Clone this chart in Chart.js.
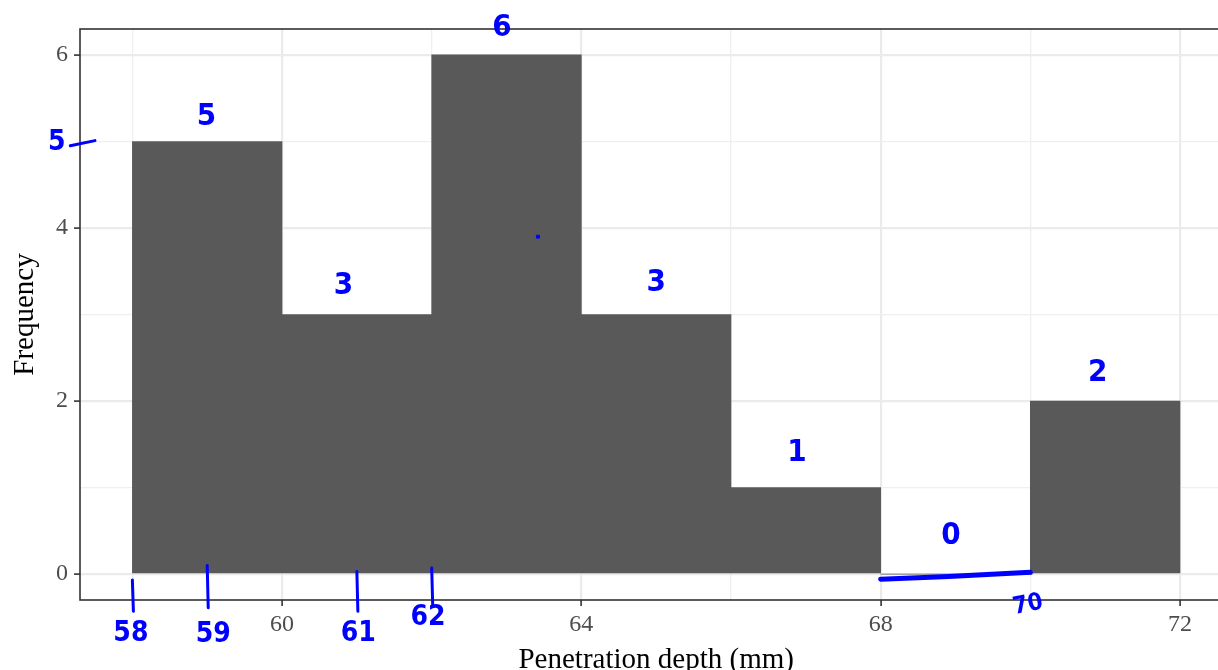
<!DOCTYPE html>
<html>
<head>
<meta charset="utf-8">
<script src="https://cdn.jsdelivr.net/npm/chart.js@4"></script>
<style>
  html, body { margin: 0; padding: 0; background: #fff; overflow: hidden; }
  #wrap { width: 1218px; height: 670px; position: relative; }
</style>
</head>
<body>
<div id="wrap"><canvas id="chart"></canvas></div>
<script>
// histogram bins
const binEdges = [58, 60, 62, 64, 66, 68, 70, 72];
const counts = [5, 3, 6, 3, 1, 0, 2];

// axes
const xMajorTicks = [60, 64, 68, 72];
const xMinorTicks = [58, 62, 66, 70];
const yMajorTicks = [0, 2, 4, 6];
const yMinorTicks = [1, 3, 5];
const xTitle = "Penetration depth (mm)";
const yTitle = "Frequency";

// handwritten notes (blue ink), in data units
const noteCountX = [58.99, 60.82, 62.94, 65.0, 66.88, 68.94, 70.9];
const noteCountY = [5.28, 3.33, 6.31, 3.37, 1.40, 0.44, 2.33];
const handTickValues = [58, 59, 61, 62];
const handTickTop = [-0.07, 0.1, 0.03, 0.07];
const handTickBottom = [-0.43, -0.39, -0.43, -0.36];
const handTickLabelX = [57.98, 59.08, 61.02, 61.95];
const handTickLabelY = [-0.69, -0.70, -0.69, -0.51];
const emptyBinLine = [[68, -0.06], [70, 0.02]];
const emptyBinLabel = { text: "70", x: 69.97, y: -0.36 };
const yNote = { text: "5", x: 56.99, y: 4.98, dash: [[57.17, 4.95], [57.5, 5.01]] };
const inkDot = [63.42, 3.9];

const BAR_COLOR = "#595959";
const GRID_MAJOR = "#EBEBEB";
const GRID_MINOR = "#EFEFEF";
const AXIS_COLOR = "#333333";
const TICK_TEXT = "#4D4D4D";
const INK = "#0000ff";
const SERIF = '"Liberation Serif", "Times New Roman", serif';
const HAND = '"Liberation Sans Narrow", "DejaVu Sans Condensed", sans-serif';

const bars = counts.map((c, i) => ({ x: (binEdges[i] + binEdges[i + 1]) / 2, y: c }));
const xTicks = [...xMinorTicks, ...xMajorTicks].sort((a, b) => a - b);
const yTicks = [...yMinorTicks, ...yMajorTicks].sort((a, b) => a - b);

const panelAndNotes = {
  id: "panelAndNotes",
  afterDraw(chart) {
    const { ctx, chartArea: a, scales: { x, y } } = chart;
    const px = (v) => x.getPixelForValue(v);
    const py = (v) => y.getPixelForValue(v);

    // panel border (theme_bw)
    ctx.save();
    ctx.strokeStyle = AXIS_COLOR;
    ctx.lineWidth = 1.6;
    ctx.strokeRect(a.left, a.top, a.right - a.left + 20, a.bottom - a.top);

    // axis titles
    ctx.fillStyle = "#000";
    ctx.font = "29px " + SERIF;
    ctx.textAlign = "center";
    ctx.textBaseline = "alphabetic";
    ctx.fillText(xTitle, px((x.min + 72.7) / 2), 668);
    ctx.translate(33, py((y.min + y.max) / 2));
    ctx.rotate(-Math.PI / 2);
    ctx.fillText(yTitle, 0, 0);
    ctx.restore();

    // blue ink notes
    ctx.save();
    ctx.fillStyle = INK;
    ctx.strokeStyle = INK;
    ctx.lineCap = "round";
    ctx.textAlign = "center";
    ctx.textBaseline = "middle";
    ctx.font = "bold 31px " + HAND;
    counts.forEach((c, i) => ctx.fillText(String(c), px(noteCountX[i]), py(noteCountY[i])));

    ctx.lineWidth = 3;
    handTickValues.forEach((v, i) => {
      ctx.beginPath();
      ctx.moveTo(px(v), py(handTickTop[i]));
      ctx.lineTo(px(v) + 1, py(handTickBottom[i]));
      ctx.stroke();
    });
    ctx.font = "bold 28px " + HAND;
    handTickValues.forEach((v, i) => ctx.fillText(String(v), px(handTickLabelX[i]), py(handTickLabelY[i])));

    ctx.lineWidth = 5;
    ctx.beginPath();
    ctx.moveTo(px(emptyBinLine[0][0]), py(emptyBinLine[0][1]));
    ctx.quadraticCurveTo(px(69), py(-0.03), px(emptyBinLine[1][0]), py(emptyBinLine[1][1]));
    ctx.stroke();

    ctx.save();
    ctx.translate(px(emptyBinLabel.x), py(emptyBinLabel.y));
    ctx.rotate(-0.2);
    ctx.font = "bold 24px " + HAND;
    ctx.fillText(emptyBinLabel.text, 0, 0);
    ctx.restore();

    ctx.font = "bold 28px " + HAND;
    ctx.fillText(yNote.text, px(yNote.x), py(yNote.y));
    ctx.lineWidth = 3;
    ctx.beginPath();
    ctx.moveTo(px(yNote.dash[0][0]), py(yNote.dash[0][1]));
    ctx.lineTo(px(yNote.dash[1][0]), py(yNote.dash[1][1]));
    ctx.stroke();

    ctx.beginPath();
    ctx.arc(px(inkDot[0]), py(inkDot[1]), 2.2, 0, Math.PI * 2);
    ctx.fill();
    ctx.restore();
  },
};

new Chart(document.getElementById("chart").getContext("2d"), {
  type: "bar",
  data: {
    datasets: [{
      data: bars,
      backgroundColor: BAR_COLOR,
      borderWidth: 0,
      barPercentage: 1,
      categoryPercentage: 1,
    }],
  },
  options: {
    responsive: true,
    maintainAspectRatio: false,
    animation: false,
    layout: { padding: { top: 29, right: 0, bottom: 0, left: 0 } },
    plugins: { legend: { display: false }, tooltip: { enabled: false } },
    scales: {
      x: {
        type: "linear",
        offset: false,
        min: 57.3,
        max: 72.508,
        afterBuildTicks: (s) => { s.ticks = xTicks.map((v) => ({ value: v })); },
        afterFit: (s) => { s.height = 70; },
        ticks: {
          color: TICK_TEXT,
          font: { family: SERIF, size: 24 },
          padding: 4,
          maxRotation: 0,
          autoSkip: false,
          callback: (v) => (xMajorTicks.includes(v) ? String(v) : ""),
        },
        grid: {
          offset: false,
          color: (c) => (xMajorTicks.includes(c.tick?.value) ? GRID_MAJOR : GRID_MINOR),
          lineWidth: (c) => (xMajorTicks.includes(c.tick?.value) ? 2.2 : 1.3),
          tickColor: (c) => (xMajorTicks.includes(c.tick?.value) ? AXIS_COLOR : "rgba(0,0,0,0)"),
          tickWidth: 1.6,
          tickLength: 6,
        },
        border: { display: false },
      },
      y: {
        min: -0.3,
        max: 6.3,
        afterBuildTicks: (s) => { s.ticks = yTicks.map((v) => ({ value: v })); },
        afterFit: (s) => { s.width = 80; },
        ticks: {
          color: TICK_TEXT,
          font: { family: SERIF, size: 24 },
          padding: 6,
          autoSkip: false,
          callback: (v) => (yMajorTicks.includes(v) ? String(v) : ""),
        },
        grid: {
          color: (c) => (yMajorTicks.includes(c.tick?.value) ? GRID_MAJOR : GRID_MINOR),
          lineWidth: (c) => (yMajorTicks.includes(c.tick?.value) ? 2.2 : 1.3),
          tickColor: (c) => (yMajorTicks.includes(c.tick?.value) ? AXIS_COLOR : "rgba(0,0,0,0)"),
          tickWidth: 1.6,
          tickLength: 6,
        },
        border: { display: false },
      },
    },
  },
  plugins: [panelAndNotes],
});
</script>
</body>
</html>
